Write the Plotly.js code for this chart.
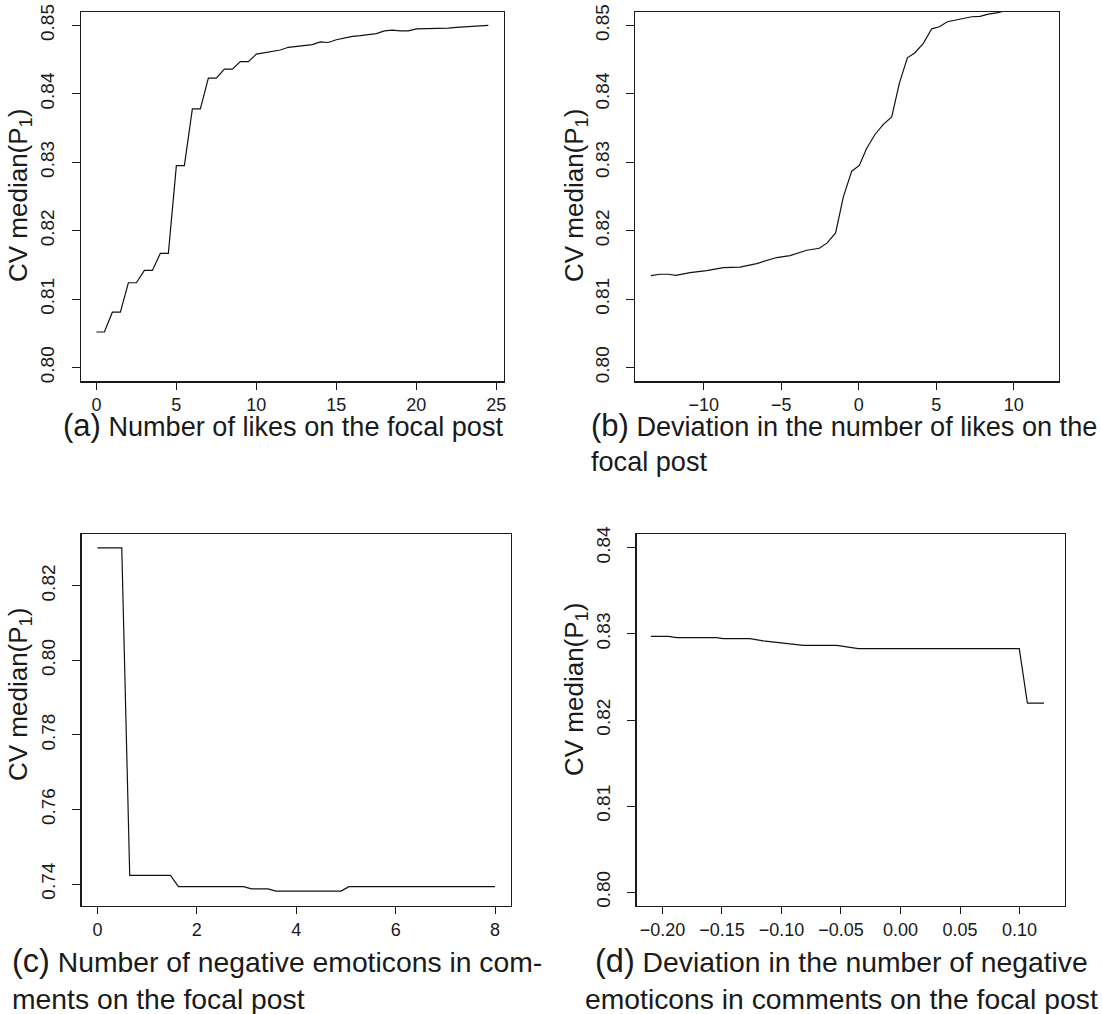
<!DOCTYPE html>
<html>
<head>
<meta charset="utf-8">
<script src="https://cdn.plot.ly/plotly-3.0.1.min.js"></script>
<style>
  html, body { margin: 0; padding: 0; background: #fff; }
  #chart { width: 1102px; height: 1014px; }
</style>
</head>
<body>
<div id="chart"></div>
<script>
// ---- Panel (a): Number of likes on the focal post ----
const likesX = [0, 0.5, 1, 1.5, 2, 2.5, 3, 3.5, 4, 4.5, 5, 5.5, 6, 6.5, 7, 7.5, 8, 8.5, 9, 9.5,
  10, 10.5, 11, 11.5, 12, 12.5, 13, 13.5, 14, 14.5, 15, 15.5, 16, 16.5, 17, 17.5, 18, 18.5, 19, 19.5,
  20, 20.5, 21, 21.5, 22, 22.5, 23, 23.5, 24, 24.5];
const likesY = [0.8052, 0.8052, 0.8081, 0.8081, 0.8124, 0.8124, 0.8142, 0.8142, 0.8167, 0.8167,
  0.8295, 0.8295, 0.8378, 0.8378, 0.8423, 0.8423, 0.8436, 0.8436, 0.8447, 0.8447,
  0.8458, 0.8460, 0.8462, 0.8464, 0.8468, 0.8469, 0.8471, 0.8472, 0.8476, 0.8475,
  0.8479, 0.8482, 0.8484, 0.8485, 0.8487, 0.8488, 0.8492, 0.8493, 0.8492, 0.8492,
  0.8495, 0.8495, 0.8495, 0.8496, 0.8496, 0.8497, 0.8498, 0.8499, 0.8500, 0.8500];

// ---- Panel (b): Deviation in the number of likes on the focal post ----
const devLikesX = [-13.40, -12.82, -12.28, -11.79, -10.88, -9.81, -8.73, -7.66, -6.58, -5.29,
  -4.43, -3.35, -2.54, -2.03, -1.49, -0.99, -0.45, 0.04, 0.51, 1.05, 1.59, 2.13, 2.62, 3.14,
  3.63, 4.17, 4.71, 5.20, 5.72, 6.28, 6.75, 7.29, 7.83, 8.36, 8.90, 9.50, 10.0, 10.5, 11.0, 11.5, 11.9];
const devLikesY = [0.81345, 0.81364, 0.81364, 0.81349, 0.81389, 0.81418, 0.81462, 0.81467, 0.81520, 0.81608,
  0.81637, 0.81715, 0.81744, 0.81822, 0.81968, 0.82494, 0.82870, 0.82953, 0.83202, 0.83406, 0.83553, 0.83664, 0.84152, 0.84526,
  0.84600, 0.84737, 0.84950, 0.84980, 0.85053, 0.85077, 0.85107, 0.85126, 0.85131, 0.85165, 0.85184, 0.8522, 0.8525, 0.8527, 0.8530, 0.8531, 0.8532];

// ---- Panel (c): Number of negative emoticons in comments on the focal post ----
const negEmoX = [0, 0.49, 0.65, 1.47, 1.63, 2.94, 3.10, 3.43, 3.59, 4.90, 5.06, 8.0];
const negEmoY = [0.8302, 0.8302, 0.7423, 0.7423, 0.7393, 0.7393, 0.7387, 0.7387, 0.7381, 0.7381, 0.7393, 0.7393];

// ---- Panel (d): Deviation in the number of negative emoticons ----
const devNegX = [-0.2097, -0.195, -0.188, -0.1545, -0.149, -0.1265, -0.1153, -0.0817, -0.0536, -0.0354, 0.0998, 0.1066, 0.1206];
const devNegY = [0.82972, 0.82972, 0.82957, 0.82957, 0.82945, 0.82945, 0.82918, 0.82867, 0.82867, 0.82828, 0.82828, 0.82197, 0.82197];

// ---- tick labels ----
const ticksA_y = [0.80, 0.81, 0.82, 0.83, 0.84, 0.85];
const ticksA_x = [0, 5, 10, 15, 20, 25];
const ticksB_x = [-10, -5, 0, 5, 10];
const ticksB_xText = ["\u221210", "\u22125", "0", "5", "10"];
const ticksC_y = [0.74, 0.76, 0.78, 0.80, 0.82];
const ticksC_x = [0, 2, 4, 6, 8];
const ticksD_y = [0.80, 0.81, 0.82, 0.83, 0.84];
const ticksD_x = [-0.20, -0.15, -0.10, -0.05, 0.00, 0.05, 0.10];
const ticksD_xText = ["\u22120.20", "\u22120.15", "\u22120.10", "\u22120.05", "0.00", "0.05", "0.10"];

const yTitle = "CV median(P<sub>1</sub>)";
const captionsTop = {
  a: "<span style='font-size:31px'>(a)</span> Number of likes on the focal post",
  b: "<span style='font-size:31px'>(b)</span> Deviation in the number of likes on the<br>focal post"
};
const captionsBottom = {
  c: "<span style='font-size:32.5px'>(c)</span> Number of negative emoticons in com-<br>ments on the focal post",
  d: "<span style='font-size:32.5px'>(d)</span> Deviation in the number of negative<br>emoticons in comments on the focal post"
};

const W = 1102, H = 1014;
const FONT = "Liberation Sans, Arial, Helvetica, sans-serif";
const INK = "#1a1a1a";
const px = v => v / W;
const py = v => 1 - v / H;

function axisBase() {
  return {
    showgrid: false, zeroline: false, showline: true, mirror: true,
    linecolor: INK, linewidth: 1.2, ticks: "outside", ticklen: 8,
    tickwidth: 1, tickcolor: INK, tickfont: { family: FONT, size: 19, color: INK },
    fixedrange: true
  };
}

const line = { color: "#111", width: 1.2 };
const traces = [
  { x: likesX, y: likesY, xaxis: "x", yaxis: "y", mode: "lines", line: line, hoverinfo: "skip" },
  { x: devLikesX, y: devLikesY, xaxis: "x2", yaxis: "y2", mode: "lines", line: line, hoverinfo: "skip" },
  { x: negEmoX, y: negEmoY, xaxis: "x3", yaxis: "y3", mode: "lines", line: line, hoverinfo: "skip" },
  { x: devNegX, y: devNegY, xaxis: "x4", yaxis: "y4", mode: "lines", line: line, hoverinfo: "skip" }
];

function xa(dom, range, vals, text, anchor) {
  const a = Object.assign(axisBase(), { domain: dom, range: range, tickmode: "array", tickvals: vals, anchor: anchor, ticklen: 7 });
  a.tickfont = { family: FONT, size: 18, color: INK };
  a.ticktext = text || vals.map(String);
  return a;
}
function ya(dom, range, vals, anchor) {
  return Object.assign(axisBase(), {
    domain: dom, range: range, tickmode: "array", tickvals: vals,
    ticktext: vals.map(v => v.toFixed(2)), tickangle: -90, anchor: anchor,
    ticklabelstandoff: 10
  });
}

function ytitle(xp, yp) {
  return { text: yTitle, textangle: -90, x: px(xp), y: py(yp), xanchor: "center", yanchor: "middle",
    xref: "paper", yref: "paper", showarrow: false, font: { family: FONT, size: 26, color: INK } };
}
function cap(text, xp, yp, xanchor, align, size) {
  return { text: text, x: px(xp), y: py(yp), xanchor: xanchor, yanchor: "top", align: align,
    xref: "paper", yref: "paper", showarrow: false, font: { family: FONT, size: size, color: INK } };
}

const layout = {
  width: W, height: H,
  margin: { l: 0, r: 0, t: 0, b: 0 },
  paper_bgcolor: "#fff", plot_bgcolor: "#fff",
  showlegend: false,
  font: { family: FONT, color: INK },
  xaxis: xa([px(80.7), px(504)], [-0.98, 25.48], ticksA_x, null, "y"),
  yaxis: ya([py(381.3), py(11.7)], [0.798, 0.852], ticksA_y, "x"),
  xaxis2: xa([px(635.3), px(1059)], [-14.41, 12.92], ticksB_x, ticksB_xText, "y2"),
  yaxis2: ya([py(381.3), py(11.7)], [0.798, 0.852], ticksA_y, "x2"),
  xaxis3: xa([px(81.5), px(511)], [-0.32, 8.32], ticksC_x, null, "y3"),
  yaxis3: ya([py(906), py(534)], [0.7341, 0.8339], ticksC_y, "x3"),
  xaxis4: xa([px(636.5), px(1065)], [-0.2218, 0.1382], ticksD_x, ticksD_xText, "y4"),
  yaxis4: ya([py(906), py(534)], [0.7984, 0.8416], ticksD_y, "x4"),
  annotations: [
    ytitle(19, 196), ytitle(575, 196), ytitle(19, 695), ytitle(575, 690),
    cap(captionsTop.a, 61, 406, "left", "left", 27.1),
    cap(captionsTop.b, 589, 406, "left", "left", 27.1),
    cap(captionsBottom.c, 10, 941, "left", "left", 28.3),
    cap(captionsBottom.d, 841, 941, "center", "center", 28.3)
  ]
};

Plotly.newPlot("chart", traces, layout, { staticPlot: true, displayModeBar: false });
</script>
</body>
</html>
